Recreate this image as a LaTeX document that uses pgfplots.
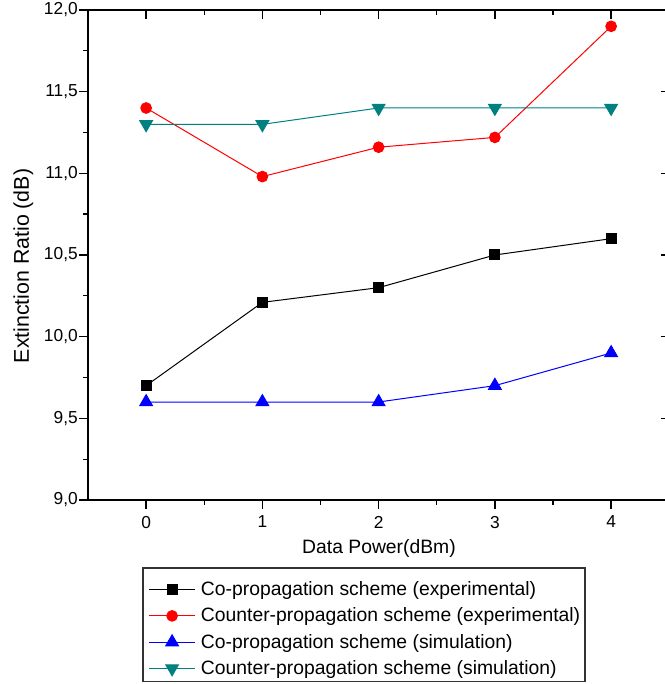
\documentclass[border=0pt]{standalone}
\usepackage{fontspec}
\setmainfont{Liberation Sans}
\usepackage{pgfplots}
\pgfplotsset{compat=1.18}
\definecolor{tealc}{RGB}{0,128,128}
\begin{document}
\begin{tikzpicture}
\pgfplotsset{
  common/.style={
    scale only axis, width=435.94pt, height=367.5pt,
    at={(0pt,0pt)}, anchor=south west,
    xmin=-0.5, xmax=4.5, ymin=9, ymax=12,
    xtick={0,1,2,3,4}, ytick={9,9.5,10,10.5,11,11.5,12},
    minor x tick num=1, minor y tick num=1,
    major tick length=6.5pt, minor tick length=3.5pt,
    axis line style={line width=1.5pt,-},
    every tick/.style={black, line width=1pt},
    clip=false,
  }
}
\begin{axis}[common, axis x line*=top, axis y line*=right, tick align=inside, xticklabels={}, yticklabels={}]
\end{axis}
\begin{axis}[common, axis x line*=bottom, axis y line*=left, tick align=outside,
  tick label style={font=\fontsize{13}{15}\selectfont},
  /pgf/number format/assume math mode=true,
  yticklabel style={/pgf/number format/fixed, /pgf/number format/fixed zerofill, /pgf/number format/precision=1, /pgf/number format/use comma, inner xsep=1pt},
  xticklabel style={yshift=-2pt},
  legend cell align=left,
  legend style={at={(axis description cs:0.0946,-0.1388)}, anchor=north west, draw=none, fill=none,
    font=\fontsize{14.5}{17.25}\selectfont, inner xsep=4pt, inner ysep=8pt, row sep=3.7pt,
    /tikz/every odd column/.append style={column sep=2pt}},
  legend image code/.code={\draw[mark repeat=2,mark phase=2,#1] plot coordinates {(0pt,0pt) (17.25pt,0pt) (34.5pt,0pt)};},
]
\addplot[black, line width=0.75pt, mark=square*, mark size=3.75pt, mark options={solid}] coordinates {(0,9.7) (1,10.21) (2,10.3) (3,10.5) (4,10.6)};
\addlegendentry{Co-propagation scheme (experimental)}
\addplot[red, line width=0.75pt, mark=*, mark size=4pt, mark options={solid}] coordinates {(0,11.4) (1,10.98) (2,11.16) (3,11.22) (4,11.9)};
\addlegendentry{Counter-propagation scheme (experimental)}
\addplot[blue, line width=0.75pt, mark=triangle*, mark size=5.5pt, mark options={solid}] coordinates {(0,9.6) (1,9.6) (2,9.6) (3,9.7) (4,9.9)};
\addlegendentry{Co-propagation scheme (simulation)}
\addplot[tealc, line width=0.75pt, mark=triangle*, mark size=5.5pt, mark options={solid, rotate=180}] coordinates {(0,11.3) (1,11.3) (2,11.4) (3,11.4) (4,11.4)};
\addlegendentry{Counter-propagation scheme (simulation)}
\end{axis}
\draw[black!80, line width=0.9pt] (41.25pt,-51pt) rectangle (372.75pt,-136pt);
\node[rotate=90, font=\fontsize{16}{18}\selectfont] at (-48.4pt,175.5pt) {Extinction Ratio (dB)};
\node[font=\fontsize{14.5}{17}\selectfont] at (218.25pt,-36pt) {Data Power(dBm)};
\pgfresetboundingbox
\useasboundingbox (-66pt,-138pt) rectangle (432pt,375pt);
\end{tikzpicture}
\end{document}
